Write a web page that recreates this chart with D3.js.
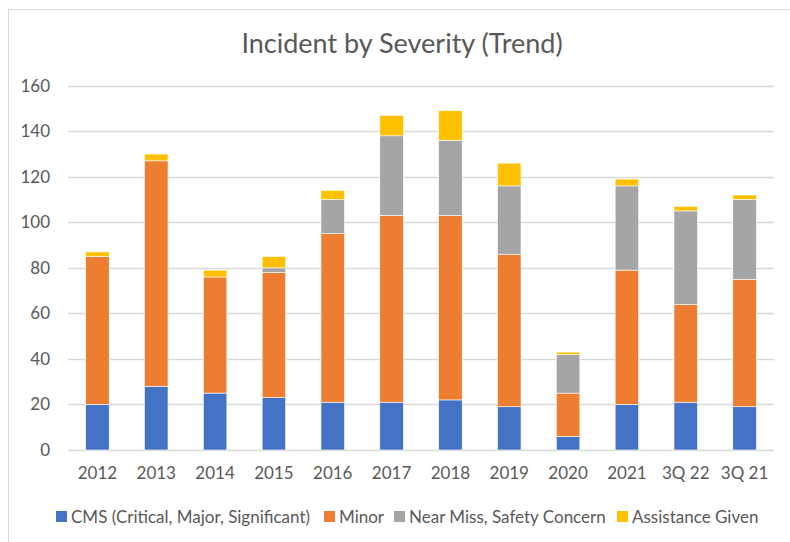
<!DOCTYPE html>
<html>
<head>
<meta charset="utf-8">
<script src="https://cdn.jsdelivr.net/npm/d3@7"></script>
<style>
  body { margin: 0; background: #fff; }
  svg { display: block; font-family: Lato, "Open Sans", sans-serif; }
</style>
</head>
<body>
<div id="chart"></div>
<script>
// categories and series
var years = ["2012", "2013", "2014", "2015", "2016", "2017", "2018", "2019", "2020", "2021", "3Q 22", "3Q 21"];
var cms =        [20, 28, 25, 23, 21, 21, 22, 19,  6, 20, 21, 19];
var minor =      [65, 99, 51, 55, 74, 82, 81, 67, 19, 59, 43, 56];
var nearMiss =   [ 0,  0,  0,  2, 15, 35, 33, 30, 17, 37, 41, 35];
var assistance = [ 2,  3,  3,  5,  4,  9, 13, 10,  1,  3,  2,  2];
var seriesNames = ["CMS (Critical, Major, Significant)", "Minor", "Near Miss, Safety Concern", "Assistance Given"];
var seriesColors = ["#4472C4", "#ED7D31", "#A5A5A5", "#FFC000"];
var yTicks = [0, 20, 40, 60, 80, 100, 120, 140, 160];

var W = 790, H = 542;
var plot = {left: 68, right: 774, top: 85.7, bottom: 450};

var svg = d3.select("#chart").append("svg")
    .attr("width", W)
    .attr("height", H);

// chart frame (only top/left show, the rest runs off the picture)
svg.append("rect")
    .attr("x", 8.5).attr("y", 9.5)
    .attr("width", 800).attr("height", 560)
    .attr("fill", "#fff")
    .attr("stroke", "#d9d9d9");

svg.append("text")
    .attr("x", 402).attr("y", 53)
    .attr("text-anchor", "middle")
    .style("font-size", "27px")
    .style("fill", "#595959")
    .text("Incident by Severity (Trend)");

var rows = years.map(function(y, i) {
    return {year: y, s0: cms[i], s1: minor[i], s2: nearMiss[i], s3: assistance[i]};
});

var x = d3.scaleBand()
    .domain(years)
    .range([plot.left, plot.right])
    .paddingInner(0.6)
    .paddingOuter(0.3);

var y = d3.scaleLinear()
    .domain([0, 160])
    .range([plot.bottom, plot.top]);

// gridlines
svg.append("g")
    .selectAll("line")
    .data(yTicks)
    .enter()
    .append("line")
    .attr("x1", plot.left).attr("x2", plot.right)
    .attr("y1", function(d) { return Math.round(y(d)) + 0.5; })
    .attr("y2", function(d) { return Math.round(y(d)) + 0.5; })
    .attr("stroke", "#d9d9d9")
    .attr("stroke-width", 1.3);

// y labels
svg.append("g")
    .selectAll("text")
    .data(yTicks)
    .enter()
    .append("text")
    .attr("x", 50)
    .attr("y", function(d) { return y(d) + 6; })
    .attr("text-anchor", "end")
    .style("font-size", "17px")
    .style("fill", "#595959")
    .text(function(d) { return d; });

// stacked bars
var stack = d3.stack().keys(["s0", "s1", "s2", "s3"]);
var layers = stack(rows);

svg.append("g")
    .selectAll("g")
    .data(layers)
    .enter()
    .append("g")
    .attr("fill", function(d, i) { return seriesColors[i]; })
    .selectAll("rect")
    .data(function(d) { return d; })
    .enter()
    .append("rect")
    .filter(function(d) { return d[1] - d[0] > 0; })
    .attr("x", function(d) { return x(d.data.year); })
    .attr("width", x.bandwidth())
    .attr("y", function(d) { return y(d[1]); })
    .attr("height", function(d) { return y(d[0]) - y(d[1]); })
    .attr("stroke", "#fff")
    .attr("stroke-width", 0.6);

// x labels
svg.append("g")
    .selectAll("text")
    .data(years)
    .enter()
    .append("text")
    .attr("x", function(d) { return x(d) + x.bandwidth() / 2; })
    .attr("y", 479)
    .attr("text-anchor", "middle")
    .style("font-size", "17px")
    .style("fill", "#595959")
    .text(function(d) { return d; });

// legend
var legendStarts = [56, 324, 394, 617];
var legend = svg.append("g");
seriesNames.forEach(function(name, i) {
    legend.append("rect")
        .attr("x", legendStarts[i]).attr("y", 511)
        .attr("width", 11).attr("height", 11)
        .attr("fill", seriesColors[i]);
    legend.append("text")
        .attr("x", legendStarts[i] + 15).attr("y", 523)
        .style("font-size", "17px")
        .style("fill", "#595959")
        .text(name);
});
</script>
</body>
</html>
